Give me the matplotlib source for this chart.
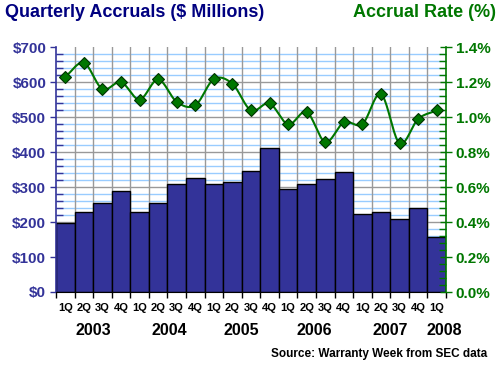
import numpy as np
import matplotlib
matplotlib.use("Agg")
import matplotlib.pyplot as plt
from matplotlib.ticker import MultipleLocator, FuncFormatter

quarters = ["1Q", "2Q", "3Q", "4Q"] * 5 + ["1Q"]
years = ["2003", "2004", "2005", "2006", "2007", "2008"]
accruals = [198, 230, 253, 288, 230, 253, 308, 325, 308, 313, 345, 413,
            293, 310, 322, 342, 222, 230, 210, 239, 156]
rate = [1.23, 1.31, 1.16, 1.20, 1.10, 1.215, 1.087, 1.067, 1.217, 1.19, 1.038,
        1.078, 0.958, 1.029, 0.857, 0.970, 0.96, 1.131, 0.85, 0.989, 1.038]

NAVY = "#333399"
TITLE_NAVY = "#000080"
GREEN = "#007700"
plt.rcParams['font.family'] = ['Liberation Sans', 'DejaVu Sans']
plt.rcParams['font.weight'] = 'bold'

fig = plt.figure(figsize=(5, 3.65), dpi=100)
ax = fig.add_axes([0.112, 0.2, 0.78, 0.671])
n = len(accruals)
x = np.arange(n)

ax.set_xlim(-0.5, n - 0.5)
ax.set_ylim(0, 700)
for v in np.arange(20, 700, 20):
    if v % 100 == 0:
        ax.axhline(v, color="#999999", lw=1.0, zorder=1)
    else:
        ax.axhline(v, color="#99CCFF", lw=1.0, zorder=0.5)
for b in np.arange(0.5, n - 0.5, 1):
    ax.axvline(b, color="#999999", lw=1.0, zorder=1)

ax.bar(x, accruals, width=1.0, color=NAVY, edgecolor="black", lw=1.0, zorder=2)

ax.yaxis.set_major_locator(MultipleLocator(100))
ax.yaxis.set_minor_locator(MultipleLocator(20))
ax.yaxis.set_major_formatter(FuncFormatter(lambda v, p: f"${int(v)}"))
ax.tick_params(axis='y', which='major', colors=NAVY, labelsize=11, direction='out', length=4, width=1, pad=3)
ax.tick_params(axis='y', which='minor', colors=NAVY, direction='in', length=5, width=1)
for lbl in ax.get_yticklabels():
    lbl.set_fontweight('bold')
ax.set_xticks(np.arange(-0.5, n, 1))
ax.set_xticklabels([])
ax.tick_params(axis='x', which='major', direction='out', length=4, width=1, colors='black')
ax.spines['left'].set_color(NAVY)
ax.spines['left'].set_linewidth(1.2)
ax.spines['top'].set_visible(False)
ax.spines['right'].set_visible(False)
ax.spines['bottom'].set_color('black')

for i, q in enumerate(quarters):
    ax.text(i, -0.045, q, transform=ax.get_xaxis_transform(), ha='center', va='top',
            fontsize=8, fontweight='bold')
year_pos = [1.5, 5.6, 9.5, 13.4, 17.5, 20.4]
for yp, yl in zip(year_pos, years):
    ax.text(yp, -0.125, yl, transform=ax.get_xaxis_transform(), ha='center', va='top',
            fontsize=11.5, fontweight='bold')

ax2 = ax.twinx()
ax2.set_ylim(0, 1.4)
ax2.set_xlim(-0.5, n - 0.5)

def catmull(xs, ys, k=20):
    px = np.concatenate([[2 * xs[0] - xs[1]], xs, [2 * xs[-1] - xs[-2]]])
    py = np.concatenate([[2 * ys[0] - ys[1]], ys, [2 * ys[-1] - ys[-2]]])
    ox, oy = [], []
    t = np.linspace(0, 1, k, endpoint=False)
    for i in range(1, len(px) - 2):
        for arr, out in ((px, ox), (py, oy)):
            p0, p1, p2, p3 = arr[i - 1], arr[i], arr[i + 1], arr[i + 2]
            out.extend(0.5 * ((2 * p1) + (-p0 + p2) * t + (2 * p0 - 5 * p1 + 4 * p2 - p3) * t ** 2
                              + (-p0 + 3 * p1 - 3 * p2 + p3) * t ** 3))
    ox.append(xs[-1]); oy.append(ys[-1])
    return np.array(ox), np.array(oy)

sx, sy = catmull(x.astype(float), np.array(rate, dtype=float))
ax2.plot(sx, sy, color=GREEN, lw=1.5, zorder=3)
ax2.plot(x, rate, ls='none', marker='D', ms=6.5, mfc=GREEN, mec='#003300', mew=0.8, zorder=4)

ax2.yaxis.set_major_locator(MultipleLocator(0.2))
ax2.yaxis.set_minor_locator(MultipleLocator(0.04))
ax2.yaxis.set_major_formatter(FuncFormatter(lambda v, p: f"{v:.1f}%"))
ax2.tick_params(axis='y', which='major', colors=GREEN, labelsize=11, direction='inout', length=8, width=1, pad=3)
ax2.tick_params(axis='y', which='minor', colors=GREEN, direction='in', length=5, width=1)
for lbl in ax2.get_yticklabels():
    lbl.set_fontweight('bold')
ax2.spines['right'].set_color(GREEN)
ax2.spines['right'].set_linewidth(1.2)
ax2.spines['left'].set_visible(False)
ax2.spines['top'].set_visible(False)
ax2.spines['bottom'].set_visible(False)

fig.text(0.01, 0.966, "Quarterly Accruals ($ Millions)", color=TITLE_NAVY, fontsize=13,
         fontweight='bold', ha='left', va='center')
fig.text(0.992, 0.966, "Accrual Rate (%)", color=GREEN, fontsize=13,
         fontweight='bold', ha='right', va='center')
fig.text(0.975, 0.03, "Source: Warranty Week from SEC data", color='black', fontsize=8.5,
         fontweight='bold', ha='right', va='center')

fig.savefig("out.png", dpi=100)
